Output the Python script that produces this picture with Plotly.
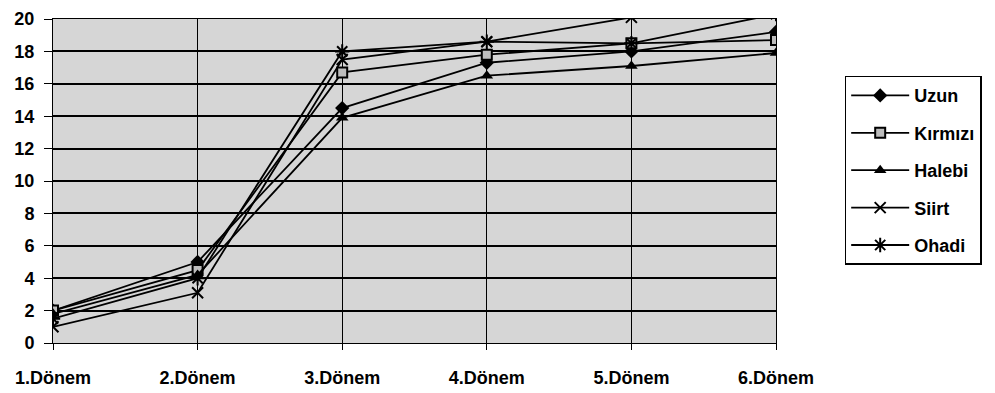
import plotly.graph_objects as go

categories = ["1.Dönem", "2.Dönem", "3.Dönem", "4.Dönem", "5.Dönem", "6.Dönem"]
uzun = [2.0, 5.0, 14.5, 17.3, 18.0, 19.2]
kirmizi = [2.0, 4.5, 16.7, 17.8, 18.5, 18.7]
halebi = [1.8, 4.2, 13.9, 16.5, 17.1, 17.9]
siirt = [1.0, 3.1, 17.5, 18.6, 20.1, 20.4]
ohadi = [1.5, 4.0, 18.0, 18.6, 18.5, 20.3]
y_ticks = list(range(0, 21, 2))

series = [
    ("Uzun", uzun, dict(symbol="diamond", size=11, color="black")),
    ("Kırmızı", kirmizi, dict(symbol="square", size=10, color="#bdbdbd", line=dict(color="black", width=2))),
    ("Halebi", halebi, dict(symbol="triangle-up", size=11, color="black")),
    ("Siirt", siirt, dict(symbol="x-thin-open", size=11, color="black", line=dict(color="black", width=2))),
    ("Ohadi", ohadi, dict(symbol="asterisk-open", size=12, color="black", line=dict(color="black", width=2))),
]

fig = go.Figure()
for i, (name, vals, mk) in enumerate(series):
    fig.add_trace(go.Scatter(
        x=categories, y=vals, name=name, mode="lines+markers",
        line=dict(color="black", width=1.8), marker=mk, legendgroup=f"g{i}",
    ))

fam = "Liberation Sans, Arial, sans-serif"
fig.update_layout(
    width=995, height=393,
    margin=dict(l=45, r=227, t=11, b=58),
    paper_bgcolor="white", plot_bgcolor="#d6d6d6",
    font=dict(family=fam, size=17, color="black"),
    showlegend=True,
    legend=dict(
        x=1.095, y=0.825, xanchor="left", yanchor="top",
        bordercolor="black", borderwidth=1.5, bgcolor="white",
        font=dict(family=fam, size=18, color="black", weight="bold"),
        tracegroupgap=11, itemwidth=58,
    ),
    xaxis=dict(
        type="category", range=[0, 5], showgrid=True, gridcolor="black", gridwidth=1,
        showline=True, linecolor="black", linewidth=1, mirror=True, automargin=False,
        ticks="outside", ticklen=6, tickcolor="black", ticklabelstandoff=12,
        tickfont=dict(family=fam, size=18, color="black", weight="bold"),
    ),
    yaxis=dict(
        range=[0, 20], tickvals=y_ticks, showgrid=True, gridcolor="black", gridwidth=1.5,
        showline=True, linecolor="black", linewidth=1, mirror=True, zeroline=False,
        automargin=False,
        ticks="outside", ticklen=8, tickcolor="black", ticklabelstandoff=6,
        tickfont=dict(family=fam, size=18, color="black", weight="bold"),
    ),
)
fig.write_html("out.html")
